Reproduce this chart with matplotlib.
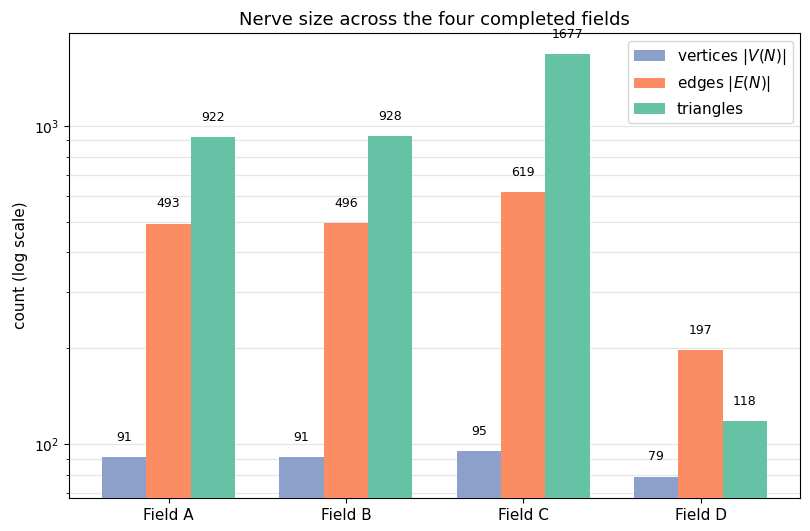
import numpy as np
import matplotlib
matplotlib.use("Agg")
import matplotlib.pyplot as plt

# =========================================================
# Data
# =========================================================
fields = ["Field A", "Field B", "Field C", "Field D"]
vertices = [91, 91, 95, 79]
edges = [493, 496, 619, 197]
triangles = [922, 928, 1677, 118]

series = [
    ("vertices $|V(N)|$", vertices, "#8da0cb"),
    ("edges $|E(N)|$", edges, "#fc8d62"),
    ("triangles", triangles, "#66c2a5"),
]

# =========================================================
# Plot
# =========================================================
fig, ax = plt.subplots(figsize=(8.1, 5.31), dpi=100)

x = np.arange(len(fields))
width = 0.25

for i, (label, vals, color) in enumerate(series):
    pos = x + (i - 1) * width
    ax.bar(pos, vals, width, label=label, color=color, zorder=3)
    for p, v in zip(pos, vals):
        ax.text(p, v * 1.10, str(v), ha="center", va="bottom", fontsize=9)

ax.set_yscale("log")
ax.set_ylim(67.6, 1960)
ax.set_xticks(x)
ax.set_xticklabels(fields, fontsize=11)
ax.set_ylabel("count (log scale)", fontsize=11)
ax.set_title("Nerve size across the four completed fields", fontsize=13)
ax.grid(axis="y", which="both", color="#e6e6e6", linewidth=0.9, zorder=0)
ax.legend(fontsize=11, loc="upper right")

fig.subplots_adjust(left=0.085, right=0.988, top=0.938, bottom=0.062)
fig.savefig("out.png", dpi=100)
